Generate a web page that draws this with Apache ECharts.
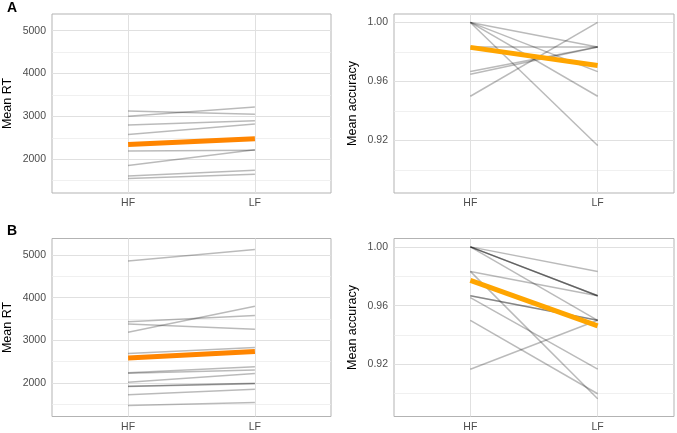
<!DOCTYPE html>
<html>
<head>
<meta charset="utf-8">
<script src="https://cdn.jsdelivr.net/npm/echarts@6/dist/echarts.min.js"></script>
<style>
html,body{margin:0;padding:0;background:#fff;}
#c{width:677px;height:433px;}
</style>
</head>
<body>
<div id="c"></div>
<script>
// ---- data ----
const conditions = ['HF', 'LF'];
const panelLabels = ['A', 'B'];

const rtA_HF = [3125, 3000, 2797, 2578, 2188, 1852, 1609, 1547];
const rtA_LF = [3047, 3219, 2898, 2820, 2211, 2219, 1742, 1648];
const rtA_mean = [2344, 2477];

const accA_HF = [1.0, 1.0, 1.0, 1.0, 0.9833, 0.9667, 0.9649, 0.95];
const accA_LF = [0.9833, 0.9667, 0.95, 0.9167, 0.9833, 0.9833, 0.9833, 1.0];
const accA_mean = [0.9831, 0.9708];

const rtB_HF = [4860, 3434, 3380, 3186, 2690, 2240, 2225, 2016, 1921, 1912, 1721, 1470];
const rtB_LF = [5132, 3581, 3256, 3798, 2829, 2380, 2302, 2217, 1992, 1980, 1848, 1540];
const rtB_mean = [2585, 2736];

const accB_HF = [1.0, 1.0, 1.0, 1.0, 1.0, 0.9833, 0.9833, 0.9667, 0.9667, 0.9655, 0.95, 0.9167];
const accB_LF = [0.9833, 0.9667, 0.9667, 0.9667, 0.95, 0.9667, 0.8966, 0.95, 0.95, 0.9167, 0.90, 0.95];
const accB_mean = [0.9772, 0.9462];

const rtMajor = [2000, 3000, 4000, 5000];
const rtMinor = [1500, 2500, 3500, 4500];
const accMajor = [0.92, 0.96, 1.00];
const accMinor = [0.90, 0.94, 0.98];

// ---- layout ----
const FONT = 'Liberation Sans, Arial, Helvetica, sans-serif';
const grids = [
  {left: 52, top: 14, width: 279, height: 179},
  {left: 394, top: 14, width: 280, height: 179},
  {left: 52, top: 238.5, width: 279, height: 178},
  {left: 394, top: 238.5, width: 280, height: 178}
];
const panels = [
  {hf: rtA_HF, lf: rtA_LF, mean: rtA_mean, meanColor: '#ff8500', min: 1210, max: 5390, major: rtMajor, minor: rtMinor, name: 'Mean RT', gap: 38, fmt: v => String(v)},
  {hf: accA_HF, lf: accA_LF, mean: accA_mean, meanColor: '#ffa500', min: 0.8845, max: 1.0057, major: accMajor, minor: accMinor, name: 'Mean accuracy', gap: 35, fmt: v => v.toFixed(2)},
  {hf: rtB_HF, lf: rtB_LF, mean: rtB_mean, meanColor: '#ff8500', min: 1210, max: 5390, major: rtMajor, minor: rtMinor, name: 'Mean RT', gap: 38, fmt: v => String(v)},
  {hf: accB_HF, lf: accB_LF, mean: accB_mean, meanColor: '#ffa500', min: 0.8845, max: 1.0057, major: accMajor, minor: accMinor, name: 'Mean accuracy', gap: 35, fmt: v => v.toFixed(2)}
];

const xAxes = [], yAxes = [], series = [];
panels.forEach((p, i) => {
  xAxes.push({
    type: 'value', gridIndex: i, min: 0.4, max: 2.6,
    axisLine: {show: false}, axisTick: {show: false, customValues: [1, 2]},
    axisLabel: {customValues: [1, 2], formatter: v => conditions[Math.round(v) - 1] || '', color: '#4d4d4d', fontSize: 10.5, fontFamily: FONT, margin: 5},
    splitLine: {show: true, lineStyle: {color: '#e0e0e0', width: 1}}
  });
  // major axis (labels + major grid)
  yAxes.push({
    type: 'value', gridIndex: i, min: p.min, max: p.max,
    name: p.name, nameLocation: 'middle', nameGap: p.gap,
    nameTextStyle: {color: '#000', fontSize: 12.5, fontFamily: FONT},
    axisLine: {show: false}, axisTick: {show: false, customValues: p.major},
    axisLabel: {customValues: p.major, formatter: p.fmt, color: '#4d4d4d', fontSize: 10.5, fontFamily: FONT, margin: 6},
    splitLine: {show: true, lineStyle: {color: '#e0e0e0', width: 1}}
  });
});
// minor grid axes
panels.forEach((p, i) => {
  yAxes.push({
    type: 'value', gridIndex: i, min: p.min, max: p.max, position: 'left',
    axisLine: {show: false}, axisTick: {show: false, customValues: p.minor},
    axisLabel: {show: false, customValues: p.minor},
    splitLine: {show: true, lineStyle: {color: '#ececec', width: 0.8}}
  });
});

panels.forEach((p, i) => {
  p.hf.forEach((v, k) => {
    series.push({
      type: 'line', xAxisIndex: i, yAxisIndex: i, silent: true, symbol: 'none', z: 2,
      lineStyle: {color: 'rgba(0,0,0,0.27)', width: 1.5},
      data: [[1, v], [2, p.lf[k]]]
    });
  });
  series.push({
    type: 'line', xAxisIndex: i, yAxisIndex: i, silent: true, symbol: 'none', z: 3,
    lineStyle: {color: p.meanColor, width: 5, cap: 'butt'},
    data: [[1, p.mean[0]], [2, p.mean[1]]]
  });
});

const chart = echarts.init(document.getElementById('c'), null, {renderer: 'canvas'});
chart.setOption({
  animation: false,
  backgroundColor: '#fff',
  title: [
    {text: panelLabels[0], left: 2, top: -4, textStyle: {fontSize: 14, fontWeight: 'bold', color: '#000', fontFamily: FONT}},
    {text: panelLabels[1], left: 2, top: 219, textStyle: {fontSize: 14, fontWeight: 'bold', color: '#000', fontFamily: FONT}}
  ],
  grid: grids.map(g => Object.assign({show: true, borderColor: '#b3b3b3', borderWidth: 1, backgroundColor: 'transparent'}, g)),
  xAxis: xAxes,
  yAxis: yAxes,
  series: series
});
</script>
</body>
</html>
